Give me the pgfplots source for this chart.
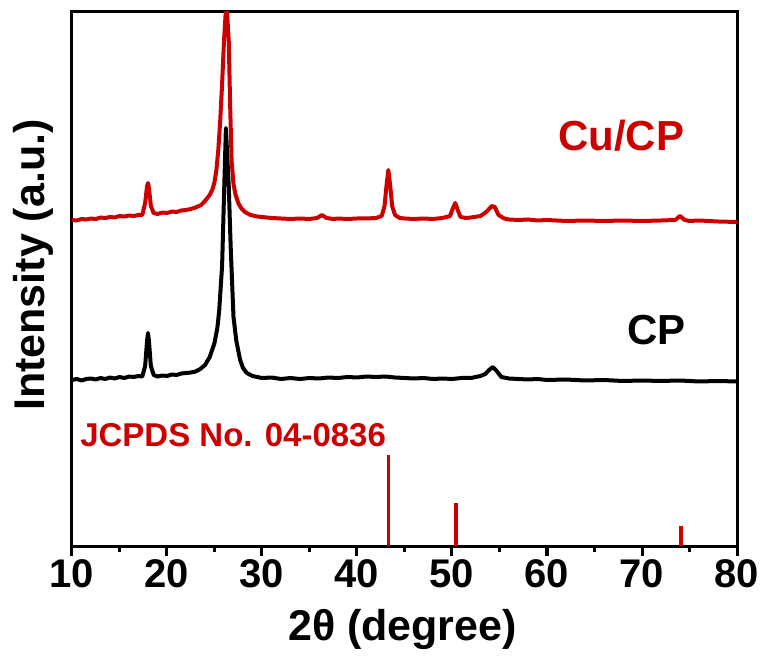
\documentclass[border=0pt]{standalone}
\usepackage{fontspec}
\setmainfont{Liberation Sans}
\usepackage{pgfplots}
\pgfplotsset{compat=1.18}
\definecolor{cured}{RGB}{204,0,0}

\begin{document}
\begin{tikzpicture}
\begin{axis}[
    scale only axis,
    width=665bp, height=534bp,
    xmin=10, xmax=80, ymin=0, ymax=534,
    axis line style={line width=3bp},
    xtick={10,20,...,80},
    minor x tick num=1,
    ytick=\empty,
    xtick pos=bottom,
    tick align=outside,
    major tick length=10bp,
    minor tick length=6bp,
    every tick/.style={black, line width=3bp},
    tick label style={font=\fontsize{40bp}{46bp}\selectfont\bfseries},
    /pgf/number format/assume math mode=true,
    xlabel={2θ (degree)},
    ylabel={Intensity (a.u.)},
    label style={font=\fontsize{43bp}{50bp}\selectfont\bfseries},
    xlabel style={at={(axis description cs:0.497,0)}, anchor=base, yshift=-94bp},
    ylabel style={at={(axis description cs:-0.023,0.526)}, anchor=south},
    clip=true,
]
% CP
\addplot[black, line width=4bp, line join=round] coordinates {
(10,166) (10.5,167) (11,165.5) (11.5,167) (12,167.5) (12.5,166.5) (13,168) (13.5,167) (14,168.5)
(14.5,167.5) (15,169) (15.5,168) (16,169.5) (16.5,169) (17,170) (17.4,169.5)
(17.7,180) (17.9,205) (18.0,213) (18.1,205) (18.3,180) (18.6,171) (19,169.5) (19.5,170.5) (20,170)
(20.5,171.5) (21,171) (21.5,172.5) (22,173) (22.5,173.5) (23,174.5) (23.5,177) (24,181) (24.5,189) (25,203)
(25.3,218) (25.5,236) (25.8,280) (26.0,350) (26.2,418) (26.5,360) (26.7,300) (27.0,229)
(27.3,205) (27.7,186) (28.0,178) (28.4,173) (29,170) (29.5,169) (30,168) (31,168.5) (32,167)
(33,168) (34,167) (35,168) (36,167.5) (37,168.5) (38,168) (39,169) (40,168.5) (41,169.5)
(42,169) (43,169.5) (44,168.5) (45,168) (46,167.5) (47,168) (48,167) (49,167.5) (50,167)
(51,168) (52,168) (53,170) (53.5,172) (53.9,176) (54.3,179) (54.7,175) (55.2,169) (56,167.5)
(57,167) (58,166.5) (59,167) (60,166) (62,166.5) (64,165.5) (66,166) (68,165) (70,165.5)
(72,165) (74,165.5) (76,164.5) (78,165) (80,164.5)
};
% Cu/CP
\addplot[cured, line width=4bp, line join=round] coordinates {
(10,326) (10.5,325.5) (11,327) (11.5,326.5) (12,327.5) (12.5,327) (13,328.5) (13.5,328) (14,329)
(14.5,328.5) (15,330) (15.5,329.5) (16,330.5) (16.5,330) (17,331) (17.4,331)
(17.7,343) (17.9,360) (18.0,363) (18.1,358) (18.3,340) (18.6,333) (19,332) (19.5,333.5) (20,333)
(20.5,334.5) (21,334) (21.5,335.5) (22,336) (22.5,337) (23,338.5) (23.6,341) (24,345) (24.5,351)
(24.8,357) (25,364) (25.2,376) (25.4,396) (25.6,425) (25.8,462) (26.0,505) (26.25,545)
(26.5,505) (26.65,440) (26.8,385) (27.0,362) (27.2,352) (27.5,343) (27.8,338)
(28.2,334) (28.8,331) (29.5,329.5) (30,329) (31,328) (32,327.5) (33,327) (34,327.5) (35,327)
(35.8,328) (36.3,331) (36.8,328) (37.5,327) (38,327.5) (39,327) (40,327.5) (41,327.5) (42,328)
(42.6,330) (42.9,340) (43.1,360) (43.3,376) (43.5,360) (43.7,340) (44,331) (44.5,328) (45,327.5)
(46,327) (47,327.5) (48,327) (49,328) (49.8,330) (50.1,338) (50.35,343) (50.6,336) (50.9,329)
(51.5,328) (52,328.5) (53,330) (53.6,334) (54.2,340) (54.5,339) (54.9,331) (55.5,327.5) (56,326.5)
(57,326) (58,326.5) (59,325.5) (60,326) (62,325) (64,325.5) (66,325) (68,325.5) (70,325)
(72,325.5) (73.5,326) (74,330) (74.5,326) (75,325) (76,325.5) (78,324.5) (80,324)
};
% JCPDS 04-0836 reference lines
\addplot[cured, line width=3.5bp, ycomb] coordinates {(43.3,91) (50.4,43) (74.1,20)};
\node[anchor=base, text=cured, font=\fontsize{42bp}{48bp}\selectfont\bfseries] at (axis cs:67.8,395) {Cu/CP};
\node[anchor=base, text=black, font=\fontsize{42bp}{48bp}\selectfont\bfseries] at (axis cs:71.5,201) {CP};
\node[anchor=base west, inner sep=0pt, text=cured, font=\fontsize{33bp}{38bp}\selectfont\bfseries] at (axis cs:10.85,99) {JCPDS No. 04-0836};
\end{axis}
\pgfresetboundingbox
\path[use as bounding box] (-72bp,-111bp) rectangle (695bp,546bp);
\end{tikzpicture}
\end{document}
